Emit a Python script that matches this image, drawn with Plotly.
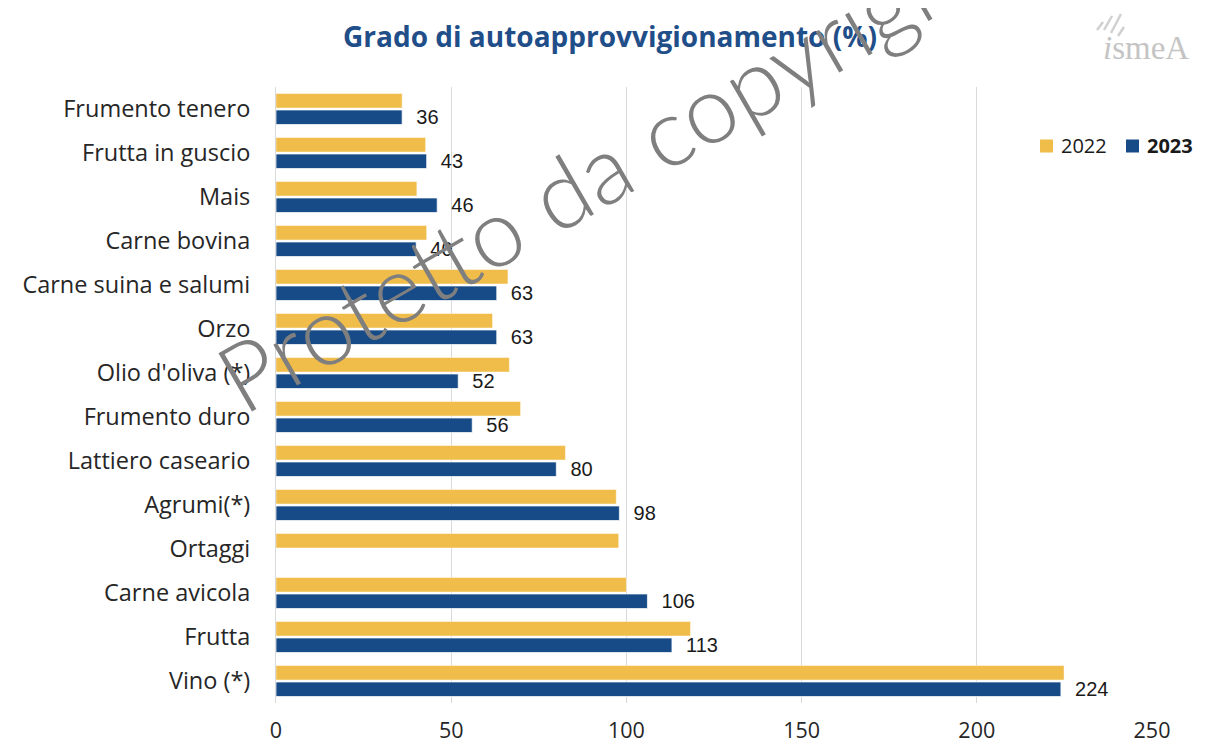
import plotly.graph_objects as go

categories = ["Frumento tenero", "Frutta in guscio", "Mais", "Carne bovina",
              "Carne suina e salumi", "Orzo", "Olio d'oliva (*)", "Frumento duro",
              "Lattiero caseario", "Agrumi(*)", "Ortaggi", "Carne avicola",
              "Frutta", "Vino (*)"]
series_names = ["2022", "2023"]
values_2022 = [36, 42.7, 40.2, 43, 66.2, 61.8, 66.6, 69.8, 82.6, 97.1, 97.8, 100, 118.3, 224.9]
values_2023 = [36, 43, 46, 40, 63, 63, 52, 56, 80, 98, None, 106, 113, 224]
x_ticks = [0, 50, 100, 150, 200, 250]

# page body has an 8px margin; window coordinates are converted below
OFF = 8
W, H = 1206 - OFF, 756 - OFF
L = 276 - OFF
T = 87 - OFF
R = W - (1152 - OFF)
B = H - (703 - OFF)
pw, ph = W - L - R, H - T - B


def px(X):
    return (X - OFF - L) / pw


def py(Y):
    return (H - B - (Y - OFF)) / ph


YELLOW = "#F0BC4A"
BLUE = "#164B87"
colors = [YELLOW, BLUE]

fig = go.Figure()
fig.add_trace(go.Bar(
    y=categories, x=values_2022, orientation="h", name=series_names[0],
    marker=dict(color=YELLOW, line=dict(color="rgba(255,255,255,0.6)", width=0.8)),
    hoverinfo="x+y",
))
fig.add_trace(go.Bar(
    y=categories, x=values_2023, orientation="h", name=series_names[1],
    marker=dict(color=BLUE, line=dict(color="rgba(255,255,255,0.7)", width=1)),
    texttemplate="\u00a0\u00a0%{x:.0f}", textposition="outside", cliponaxis=False,
    constraintext="none",
    textfont=dict(family="Liberation Sans, Arial", size=20, color="#1a1a1a"),
    hoverinfo="x+y",
))

fig.update_layout(
    width=W, height=H,
    margin=dict(l=L, r=R, t=T, b=B, autoexpand=False),
    paper_bgcolor="#FFFFFF",
    plot_bgcolor="rgba(0,0,0,0)",
    barmode="group", bargap=0.25, bargroupgap=0.12,
    title=dict(text="<b>Grado di autoapprovvigionamento (%)</b>",
               x=(610 - OFF) / W, y=1 - (37 - OFF) / H, xanchor="center", yanchor="middle",
               font=dict(family="Open Sans", size=28, color="#1F4E89")),
    showlegend=False,
    xaxis=dict(range=[0, 250], tickvals=x_ticks, showgrid=True, gridcolor="#D9D9D9",
               gridwidth=1, zeroline=False, showline=False, automargin=False,
               tickfont=dict(family="Open Sans", size=21.5, color="#262626"),
               ticklabelstandoff=12, fixedrange=True),
    yaxis=dict(autorange="reversed", showgrid=False, showline=True, linecolor="#D9D9D9",
               linewidth=1, automargin=False,
               tickfont=dict(family="Open Sans", size=23.5, color="#262626"),
               ticklabelstandoff=20, fixedrange=True),
)

# legend (drawn manually to match the compact original layout)
legend_sq_x = [1040, 1126]
legend_cy = 146
for name, col, sx in zip(series_names, colors, legend_sq_x):
    fig.add_shape(type="rect", xref="paper", yref="paper",
                  x0=px(sx), x1=px(sx + 13), y0=py(legend_cy + 6.5), y1=py(legend_cy - 6.5),
                  fillcolor=col, line=dict(width=0))
    label = name if name == series_names[0] else f"<b>{name}</b>"
    fig.add_annotation(xref="paper", yref="paper", x=px(sx + 19), y=py(legend_cy),
                       text=label, showarrow=False, xanchor="left", yanchor="middle",
                       font=dict(family="Open Sans", size=20, color="#1a1a1a"))

# logo: small decorative strokes + wordmark
strokes = [(1097, 30, 1103, 22), (1104, 30, 1112, 16), (1111, 33, 1121, 14), (1118, 36, 1124, 27)]
for x0, y0, x1, y1 in strokes:
    fig.add_shape(type="line", xref="paper", yref="paper",
                  x0=px(x0), y0=py(y0), x1=px(x1), y1=py(y1),
                  line=dict(color="#D0D0D0", width=2.5))
fig.add_annotation(xref="paper", yref="paper", x=px(1146), y=py(48),
                   text="<i>i</i>smeA", showarrow=False, xanchor="center", yanchor="middle",
                   font=dict(family="Liberation Serif", size=33, color="#C4C4C4"))

# watermark
fig.add_annotation(xref="paper", yref="paper", x=px(600), y=py(168),
                   text="Protetto da copyright", showarrow=False, textangle=-30,
                   xanchor="center", yanchor="middle",
                   font=dict(family="Lato, Inter, DejaVu Sans", size=95, color="#7F7F7F", weight=300))

fig.write_html("out.html")
